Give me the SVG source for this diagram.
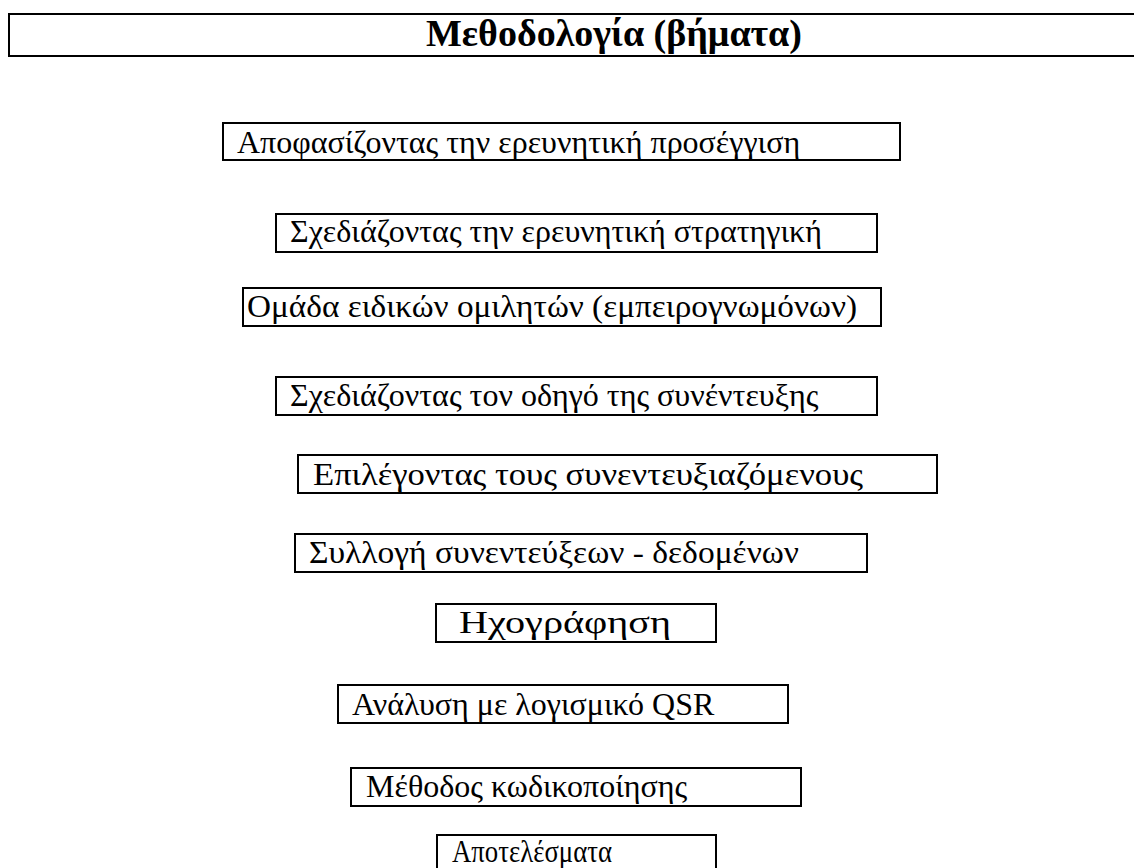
<svg xmlns="http://www.w3.org/2000/svg" width="1134" height="868" viewBox="0 0 1134 868">
<style>
.box{fill:#fff;stroke:#000;stroke-width:2}
.t{font-family:"Liberation Serif","Times New Roman",serif;font-size:32px;fill:#000}
.h{font-family:"Liberation Serif","Times New Roman",serif;font-size:38px;font-weight:bold;fill:#000}
</style>
<rect width="1134" height="868" fill="#fff"/>
<g id="header">
<rect class="box" x="9" y="14" width="1200" height="42"/>
<text class="h" x="426" y="46">Μεθοδολογία (βήματα)</text>
</g>
<g id="n1"><rect class="box" x="223" y="123" width="677" height="37"/><text class="t" x="237" y="153">Αποφασίζοντας την ερευνητική προσέγγιση</text></g>
<g id="n2"><rect class="box" x="276" y="214" width="601" height="38"/><text class="t" x="290" y="242">Σχεδιάζοντας την ερευνητική στρατηγική</text></g>
<g id="n3"><rect class="box" x="243" y="288" width="638" height="38"/><text class="t" x="247" y="317" textLength="610" lengthAdjust="spacingAndGlyphs">Ομάδα ειδικών ομιλητών (εμπειρογνωμόνων)</text></g>
<g id="n4"><rect class="box" x="276" y="377" width="601" height="38"/><text class="t" x="290" y="406">Σχεδιάζοντας τον οδηγό της συνέντευξης</text></g>
<g id="n5"><rect class="box" x="298" y="455" width="639" height="38"/><text class="t" x="313" y="485" textLength="550" lengthAdjust="spacingAndGlyphs">Επιλέγοντας τους συνεντευξιαζόμενους</text></g>
<g id="n6"><rect class="box" x="295" y="534" width="572" height="38"/><text class="t" x="309" y="563" textLength="490" lengthAdjust="spacingAndGlyphs">Συλλογή συνεντεύξεων - δεδομένων</text></g>
<g id="n7"><rect class="box" x="436" y="604" width="280" height="38"/><text class="t" x="459" y="633" textLength="212" lengthAdjust="spacingAndGlyphs">Ηχογράφηση</text></g>
<g id="n8"><rect class="box" x="338" y="685" width="450" height="38"/><text class="t" x="352" y="715">Ανάλυση με λογισμικό QSR</text></g>
<g id="n9"><rect class="box" x="351" y="768" width="450" height="38"/><text class="t" x="366" y="797">Μέθοδος κωδικοποίησης</text></g>
<g id="n10"><rect class="box" x="437" y="835" width="279" height="40"/><text class="t" x="452" y="862" textLength="160" lengthAdjust="spacingAndGlyphs">Αποτελέσματα</text></g>
<g id="connectors"></g>
</svg>
